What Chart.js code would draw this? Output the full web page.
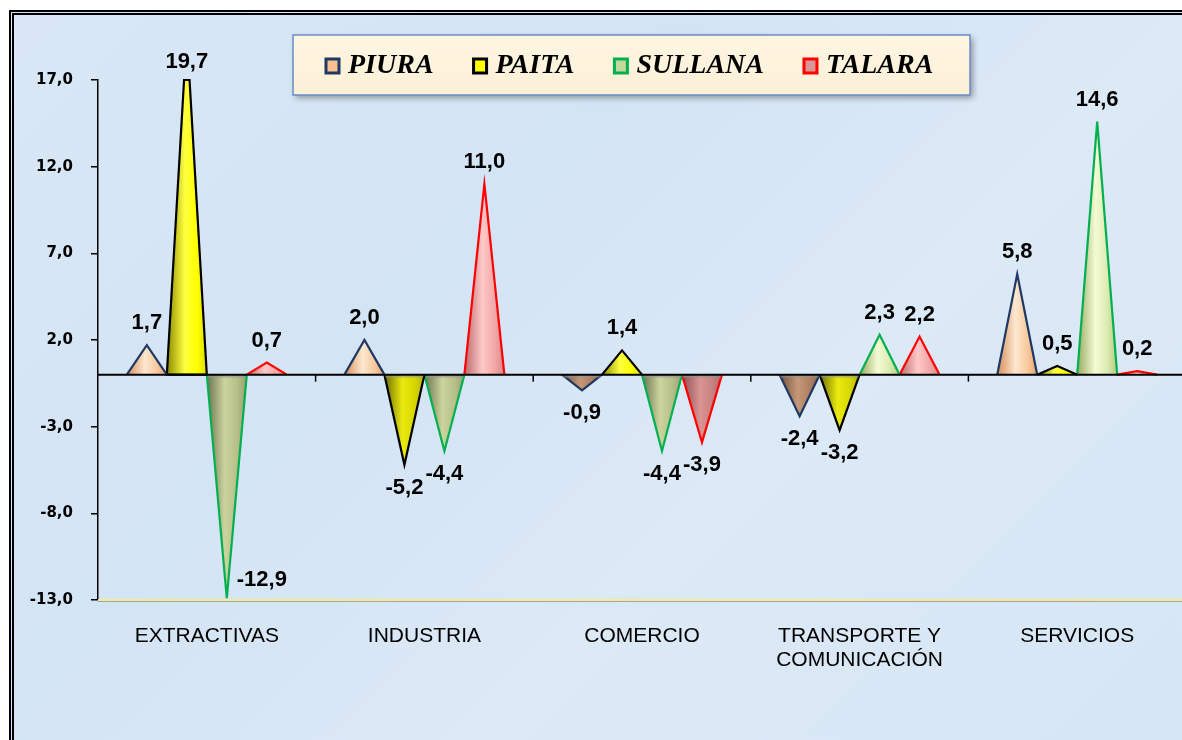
<!DOCTYPE html>
<html>
<head>
<meta charset="utf-8">
<script src="https://cdn.jsdelivr.net/npm/chart.js"></script>
<style>
  html, body { margin: 0; padding: 0; background: #fff; overflow: hidden; }
  body { width: 1182px; height: 740px; position: relative; }
  #frame {
    position: absolute; left: 9px; top: 10px; width: 1200px; height: 760px;
    border: 5px double #000;
    background: linear-gradient(135deg, #d9e7f6 0%, #d3e4f4 35%, #dce9f7 60%, #d6e6f5 100%);
  }
  #wrap { position: absolute; left: 0; top: 0; width: 1190px; height: 740px; }
</style>
</head>
<body>
<div id="frame"></div>
<div id="wrap"><canvas id="chart" width="1190" height="740"></canvas></div>
<script>
// values
const categories = ['EXTRACTIVAS', 'INDUSTRIA', 'COMERCIO', ['TRANSPORTE Y', 'COMUNICACIÓN'], 'SERVICIOS'];
const piura   = [1.7, 2.0, -0.9, -2.4, 5.8];
const paita   = [19.7, -5.2, 1.4, -3.2, 0.5];
const sullana = [-12.9, -4.4, -4.4, 2.3, 14.6];
const talara  = [0.7, 11.0, -3.9, 2.2, 0.2];
const yTicks  = [-13, -8, -3, 2, 7, 12, 17];

// look of each series: border, legend fill, gradient (positive / negative)
const looks = [
  { border: '#1f3864', fill: '#fac090',
    pos: ['#d68c58', '#fde7cf', '#f7caa0', '#e7a56f'], neg: ['#74503a', '#c49878', '#b08062', '#936649'] },
  { border: '#000000', fill: '#ffff00',
    pos: ['#8a8a00', '#ffff40', '#ffff00', '#dede00'], neg: ['#6c6c00', '#eaea10', '#d8d800', '#b4b400'] },
  { border: '#00b050', fill: '#c4d79b',
    pos: ['#98aa62', '#f3fbd4', '#dcebb2', '#b6ca80'], neg: ['#6c7350', '#ccd49e', '#b8c08a', '#9aa072'] },
  { border: '#ff0000', fill: '#d99694',
    pos: ['#b86a6a', '#ffc8c8', '#f3a8a8', '#d68888'], neg: ['#8a5050', '#da9494', '#c88282', '#ad6c6c'] }
];

const fmt = v => v.toFixed(1).replace('.', ',');

const pyramids = {
  id: 'pyramids',
  beforeDatasetDraw(chart, args) {
    const ctx = chart.ctx;
    const area = chart.chartArea;
    const look = looks[args.index];
    args.meta.data.forEach((bar, i) => {
      const { x, y, base, width } = bar.getProps(['x', 'y', 'base', 'width'], true);
      const half = width / 2;
      const l = x - half, r = x + half;
      const neg = y > base;
      let pts;
      const limit = y < area.top ? area.top : (y > area.bottom ? area.bottom : null);
      if (limit !== null) {
        const t = (limit - base) / (y - base);
        pts = [[l, base], [l + t * half, limit], [r - t * half, limit], [r, base]];
      } else {
        pts = [[l, base], [x, y], [r, base]];
      }
      const g = ctx.createLinearGradient(l, 0, r, 0);
      const c = neg ? look.neg : look.pos;
      g.addColorStop(0, c[0]);
      g.addColorStop(0.45, c[1]);
      g.addColorStop(0.75, c[2]);
      g.addColorStop(1, c[3]);
      ctx.save();
      ctx.beginPath();
      pts.forEach((p, k) => k ? ctx.lineTo(p[0], p[1]) : ctx.moveTo(p[0], p[1]));
      ctx.closePath();
      ctx.fillStyle = g;
      ctx.fill();
      ctx.lineJoin = 'miter';
      ctx.lineWidth = 2.2;
      ctx.strokeStyle = look.border;
      ctx.beginPath();
      pts.forEach((p, k) => k ? ctx.lineTo(p[0], p[1]) : ctx.moveTo(p[0], p[1]));
      if (limit !== null) ctx.closePath();
      ctx.stroke();
      if (neg) {
        ctx.fillStyle = 'rgba(140,150,150,0.55)';
        ctx.fillRect(l + 1, base, width - 2, 3);
      }
      ctx.restore();
    });
    return false;
  },
  afterDatasetsDraw(chart) {
    const ctx = chart.ctx;
    const area = chart.chartArea;
    const xs = chart.scales.x, ys = chart.scales.y;
    const y0 = ys.getPixelForValue(0);
    ctx.save();
    // bottom edge of the plot
    ctx.strokeStyle = '#efeaa8';
    ctx.lineWidth = 2;
    ctx.beginPath(); ctx.moveTo(area.left, area.bottom); ctx.lineTo(area.right, area.bottom); ctx.stroke();
    ctx.strokeStyle = '#a9a68c';
    ctx.lineWidth = 1;
    ctx.beginPath(); ctx.moveTo(area.left, area.bottom + 1.5); ctx.lineTo(area.right, area.bottom + 1.5); ctx.stroke();
    // zero line with category ticks
    ctx.strokeStyle = '#000';
    ctx.lineWidth = 2;
    ctx.beginPath(); ctx.moveTo(area.left, y0); ctx.lineTo(area.right, y0); ctx.stroke();
    ctx.lineWidth = 1.5;
    for (let i = 0; i < categories.length - 1; i++) {
      const bx = (xs.getPixelForTick(i) + xs.getPixelForTick(i + 1)) / 2;
      ctx.beginPath(); ctx.moveTo(bx, y0); ctx.lineTo(bx, y0 + 7); ctx.stroke();
    }
    // value labels
    ctx.font = 'bold 22px "Liberation Sans", Arial, sans-serif';
    ctx.fillStyle = '#000';
    ctx.textAlign = 'center';
    ctx.textBaseline = 'middle';
    chart.data.datasets.forEach((ds, di) => {
      chart.getDatasetMeta(di).data.forEach((bar, i) => {
        const v = ds.data[i];
        const { x, y } = bar.getProps(['x', 'y'], true);
        let lx = x, ly;
        if (v >= 0) {
          ly = y < area.top ? area.top - 18 : y - 22;
        } else {
          ly = y + 23;
          if (ly + 10 > area.bottom) { lx = x + 35; ly = y - 18; }
        }
        ctx.fillText(fmt(v), lx, ly);
      });
    });
    ctx.restore();
  },
  afterDraw(chart) {
    // legend panel
    const ctx = chart.ctx;
    const fx = 293, fy = 35, fw = 677, fh = 60;
    ctx.save();
    ctx.shadowColor = 'rgba(0,0,0,0.35)';
    ctx.shadowBlur = 6;
    ctx.shadowOffsetX = 3;
    ctx.shadowOffsetY = 3;
    const g = ctx.createLinearGradient(0, fy, 0, fy + fh);
    g.addColorStop(0, '#fff6e2');
    g.addColorStop(1, '#fcefd6');
    ctx.fillStyle = g;
    ctx.fillRect(fx, fy, fw, fh);
    ctx.restore();
    ctx.save();
    ctx.strokeStyle = '#6a8cc6';
    ctx.lineWidth = 1.5;
    ctx.strokeRect(fx, fy, fw, fh);
    ctx.font = 'italic bold 28px "Liberation Serif", "Times New Roman", serif';
    ctx.textBaseline = 'middle';
    ctx.textAlign = 'left';
    let cx = fx + 33;
    const cy = fy + fh / 2 + 1;
    chart.data.datasets.forEach((ds, di) => {
      const look = looks[di];
      ctx.fillStyle = look.fill;
      ctx.fillRect(cx, cy - 7, 13, 14);
      ctx.strokeStyle = look.border;
      ctx.lineWidth = 3;
      ctx.strokeRect(cx, cy - 7, 13, 14);
      ctx.fillStyle = '#000';
      ctx.fillText(ds.label, cx + 22, cy);
      cx += 22 + ctx.measureText(ds.label).width + 40;
    });
    ctx.restore();
  }
};

new Chart(document.getElementById('chart'), {
  type: 'bar',
  data: {
    labels: categories,
    datasets: [
      { label: 'PIURA', data: piura },
      { label: 'PAITA', data: paita },
      { label: 'SULLANA', data: sullana },
      { label: 'TALARA', data: talara }
    ]
  },
  options: {
    responsive: false,
    devicePixelRatio: 1,
    animation: false,
    categoryPercentage: 0.735,
    barPercentage: 1,
    layout: { padding: { left: 0, top: 80, right: 4, bottom: 0 } },
    plugins: { legend: { display: false }, tooltip: { enabled: false } },
    scales: {
      x: {
        grid: { display: false, drawTicks: false },
        border: { display: false },
        ticks: {
          color: '#000',
          padding: 24,
          maxRotation: 0,
          font: { family: '"Liberation Sans", Arial, sans-serif', size: 21, lineHeight: 1.15 }
        },
        afterFit: s => { s.height = 140; }
      },
      y: {
        min: -13,
        max: 17,
        afterBuildTicks: s => { s.ticks = yTicks.map(v => ({ value: v })); },
        grid: { drawOnChartArea: false, drawTicks: true, tickLength: 7, color: '#000', lineWidth: 1.5 },
        border: { display: true, color: '#000', width: 1.5 },
        ticks: {
          color: '#000',
          padding: 18,
          callback: v => fmt(v),
          font: { family: '"DejaVu Sans", sans-serif', size: 15, weight: 'bold' }
        },
        afterFit: s => { s.width = 98; }
      }
    }
  },
  plugins: [pyramids]
});
</script>
</body>
</html>
